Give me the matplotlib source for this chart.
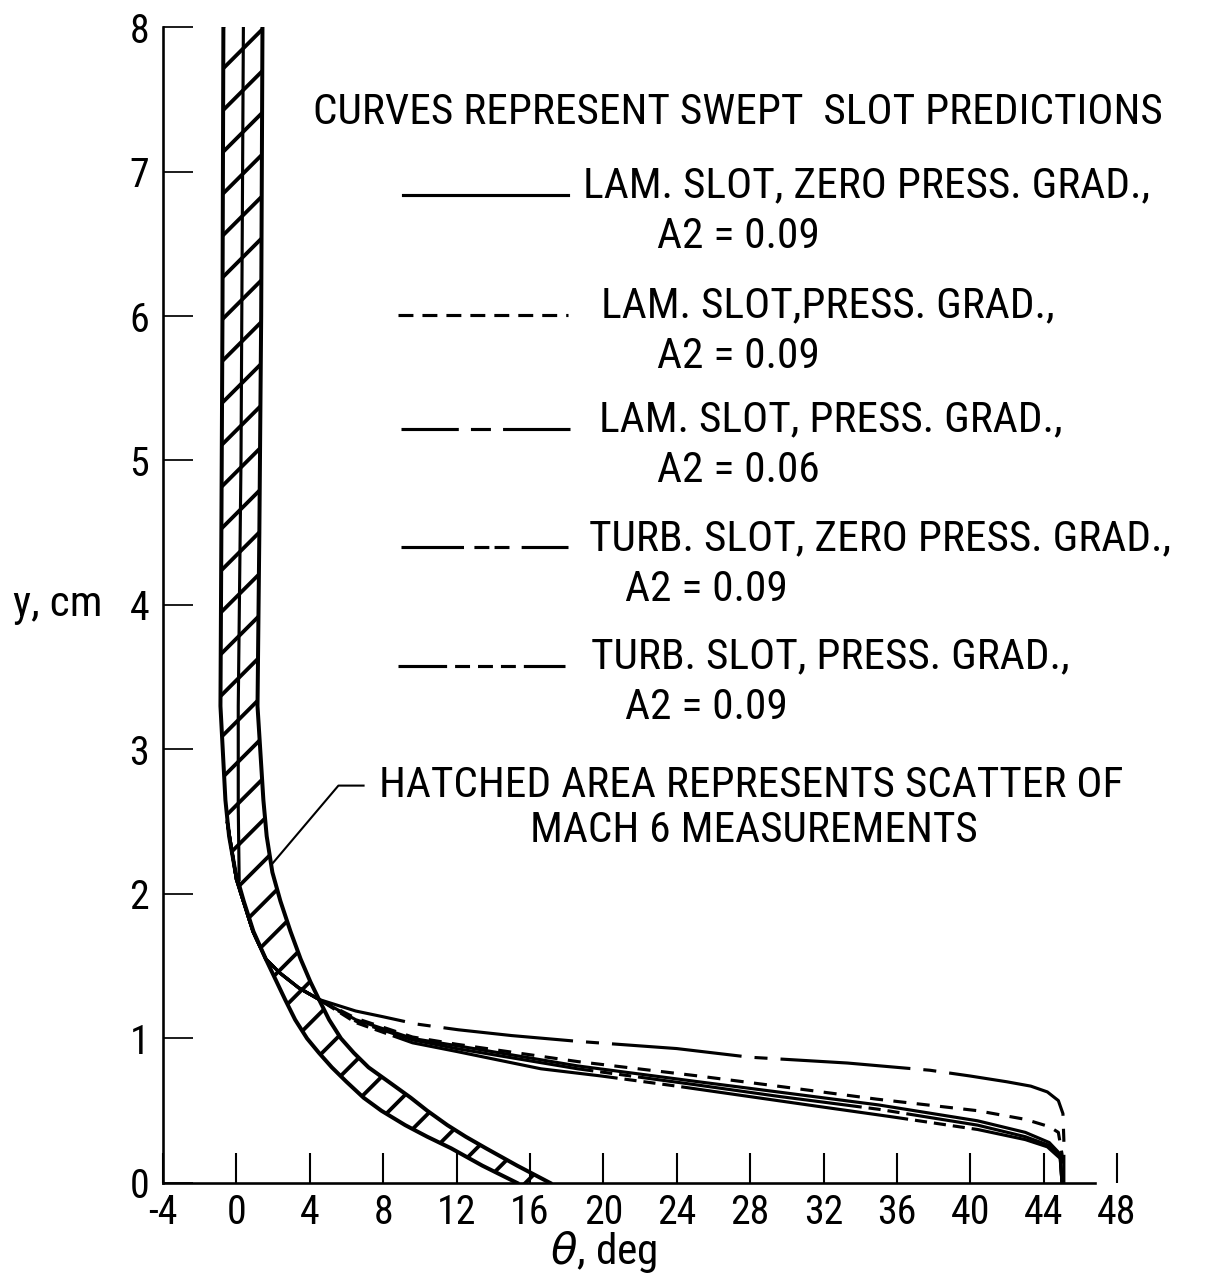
import matplotlib
matplotlib.use("Agg")
import matplotlib.pyplot as plt
from matplotlib import font_manager

# pick a narrow face if one is installed, the reference lettering is condensed
fm = font_manager.fontManager
names = {f.name for f in fm.ttflist}
FONT, STRETCH, FS, FS_TICK = "DejaVu Sans", "normal", 20.5, 20.5
for cand in ["Liberation Sans Narrow", "Roboto Condensed", "DejaVu Sans Condensed", "Open Sans Condensed"]:
    if cand in names:
        FONT, FS, FS_TICK = cand, 25, 23
        break
else:
    if any(f.name == "DejaVu Sans" and f.stretch == "condensed" for f in fm.ttflist):
        STRETCH, FS, FS_TICK = "condensed", 25, 23
plt.rcParams["font.family"] = [FONT, "DejaVu Sans"]
plt.rcParams["font.stretch"] = STRETCH
plt.rcParams["lines.scale_dashes"] = False
plt.rcParams["hatch.linewidth"] = 2.2

# scatter band of Mach 6 measurements (theta, deg at each y, cm)
band_y = [8.0, 6.0, 4.5, 3.3, 2.65, 2.4, 2.15, 1.95, 1.74, 1.55, 1.39, 1.27, 1.13,
          1.0, 0.9, 0.8, 0.7, 0.59, 0.5, 0.4, 0.32, 0.24, 0.12, 0.0]
band_left = [-0.71, -0.76, -0.82, -0.87, -0.6, -0.4, -0.05, 0.4, 0.93, 1.6, 2.2, 2.65, 3.2,
             3.85, 4.5, 5.2, 6.0, 6.93, 7.9, 9.2, 10.4, 11.7, 13.4, 15.3]
band_right = [1.42, 1.35, 1.25, 1.15, 1.47, 1.65, 1.96, 2.4, 2.95, 3.5, 4.04, 4.5, 5.05,
              5.7, 6.4, 7.2, 8.3, 9.5, 10.4, 11.5, 12.5, 13.6, 15.3, 17.1]
mid_y = [8.0, 5.0, 3.3, 2.6, 2.1]
mid_x = [0.38, 0.25, 0.1, 0.1, 0.15]

# swept slot predictions
lam_zero_x = [-0.5, 0.0, 0.9, 1.6, 2.4, 3.4, 4.5, 6.5, 9.6, 12.0, 18.6, 25.2, 29.5, 35.0, 40.4, 43.0, 44.3, 44.9, 45.0]
lam_zero_y = [2.5, 2.1, 1.74, 1.55, 1.45, 1.35, 1.27, 1.13, 1.0, 0.95, 0.81, 0.70, 0.63, 0.54, 0.43, 0.35, 0.28, 0.2, 0.0]

lam_pg_x = [-0.5, 0.0, 0.9, 1.6, 2.4, 3.4, 4.5, 6.5, 9.6, 12.0, 18.6, 25.2, 29.5, 34.9, 40.4, 43.0, 44.3, 44.8, 45.0, 45.0]
lam_pg_y = [2.5, 2.1, 1.74, 1.55, 1.45, 1.35, 1.27, 1.14, 1.01, 0.96, 0.84, 0.74, 0.67, 0.58, 0.50, 0.44, 0.39, 0.35, 0.2, 0.0]

lam_pg06_x = [-0.5, 0.0, 0.9, 1.6, 2.4, 3.4, 4.5, 6.5, 8.0, 9.8, 12.1, 15.0, 18.6, 24.0, 28.0, 33.3, 37.8, 40.0, 42.0, 43.3, 44.2, 44.8, 45.05, 45.1, 45.1]
lam_pg06_y = [2.5, 2.1, 1.74, 1.55, 1.45, 1.35, 1.27, 1.19, 1.15, 1.10, 1.06, 1.02, 0.98, 0.93, 0.87, 0.83, 0.78, 0.74, 0.70, 0.67, 0.63, 0.57, 0.48, 0.3, 0.0]

turb_zero_x = [-0.5, 0.0, 0.9, 1.6, 2.4, 3.4, 4.5, 6.5, 9.6, 12.0, 18.6, 25.0, 29.5, 35.0, 40.4, 43.0, 44.3, 44.9, 45.0]
turb_zero_y = [2.5, 2.1, 1.74, 1.55, 1.45, 1.35, 1.27, 1.12, 0.99, 0.93, 0.79, 0.68, 0.60, 0.51, 0.40, 0.32, 0.26, 0.18, 0.0]

turb_pg_x = [-0.5, 0.0, 0.9, 1.6, 2.4, 3.4, 4.5, 6.5, 9.6, 12.0, 16.6, 19.9, 24.0, 29.5, 31.7, 35.6, 40.4, 43.0, 44.2, 44.9, 45.0]
turb_pg_y = [2.5, 2.1, 1.74, 1.55, 1.45, 1.35, 1.27, 1.11, 0.97, 0.91, 0.79, 0.74, 0.67, 0.57, 0.53, 0.46, 0.37, 0.30, 0.25, 0.17, 0.0]

legend_labels = ["LAM. SLOT, ZERO PRESS. GRAD.,", "LAM. SLOT,PRESS. GRAD.,",
                 "LAM. SLOT, PRESS. GRAD.,", "TURB. SLOT, ZERO PRESS. GRAD.,",
                 "TURB. SLOT, PRESS. GRAD.,"]
legend_a2 = ["A2 = 0.09", "A2 = 0.09", "A2 = 0.06", "A2 = 0.09", "A2 = 0.09"]

xticks = list(range(-4, 49, 4))
xtick_labels = ["-4", "0", "4", "8", "12", "16", "20", "24", "28", "32", "36", "40", "44", "48"]
yticks = list(range(0, 9))

fig = plt.figure(figsize=(9.704, 10.2), dpi=125)
ax = fig.add_axes([0.1344, 0.0722, 0.7865, 0.9066])
ax.set_xlim(-4, 48)
ax.set_ylim(0, 8)

# band
ax.fill_betweenx(band_y, band_left, band_right, facecolor="none", edgecolor="black",
                 hatch="/", linewidth=0)
ax.plot(band_left, band_y, color="black", lw=2.3)
ax.plot(band_right, band_y, color="black", lw=2.3)
ax.plot(mid_x, mid_y, color="black", lw=1.8)

# prediction curves
lw = 1.8
ax.plot(lam_zero_x, lam_zero_y, color="black", lw=lw)
ax.plot(lam_pg_x, lam_pg_y, color="black", lw=lw, dashes=(7.5, 6))
ax.plot(lam_pg06_x, lam_pg06_y, color="black", lw=lw, dashes=(75, 7.5, 7.5, 7.5))
ax.plot(turb_zero_x, turb_zero_y, color="black", lw=lw, dashes=(130, 4, 7, 4, 7, 4))
ax.plot(turb_pg_x, turb_pg_y, color="black", lw=lw, dashes=(132, 4, 7, 4, 7, 4, 7, 4))

# legend drawn by hand
ax.text(4.15, 7.41, "CURVES REPRESENT SWEPT  SLOT PREDICTIONS", fontsize=FS, va="center")
samples = [(), (8.6, 5.2), (33, 7, 11.5, 7, 200, 10),
           (36, 6, 8.6, 3, 8.6, 7, 200, 10), (28, 4.6, 8.6, 4.6, 8.6, 4.6, 8.6, 4.6, 200, 10)]
line_x = [(9.1, 18.1), (8.8, 18.1), (8.95, 18.2), (8.95, 18.1), (8.8, 17.9)]
line_y = [6.84, 6.01, 5.22, 4.40, 3.58]
text_x = [18.9, 19.86, 19.75, 19.2, 19.3]
a2_x = [22.9, 22.9, 22.9, 21.2, 21.2]
for i in range(5):
    kw = {"dashes": samples[i]} if samples[i] else {}
    ax.plot(line_x[i], [line_y[i]] * 2, color="black", lw=1.8, **kw)
    ax.text(text_x[i], line_y[i] + 0.06, legend_labels[i], fontsize=FS, va="center")
    ax.text(a2_x[i], line_y[i] - 0.29, legend_a2[i], fontsize=FS, va="center")

ax.text(7.75, 2.75, "HATCHED AREA REPRESENTS SCATTER OF", fontsize=FS, va="center")
ax.text(16.0, 2.44, "MACH 6 MEASUREMENTS", fontsize=FS, va="center")
ax.plot([6.93, 5.56, 1.96], [2.75, 2.75, 2.21], color="black", lw=1.2)

ax.text(-12.2, 4.0, "y, cm", fontsize=FS, va="center", ha="left", clip_on=False)

# axes
for s in ["top", "right"]:
    ax.spines[s].set_visible(False)
ax.spines["bottom"].set_bounds(-4, 46.8)
ax.spines["bottom"].set_linewidth(1.5)
ax.spines["left"].set_linewidth(1.5)
ax.set_xticks(xticks)
ax.set_xticklabels(xtick_labels)
ax.set_yticks(yticks)
ax.tick_params(axis="x", direction="in", length=17, width=1.2, pad=6, labelsize=FS_TICK)
ax.tick_params(axis="y", direction="in", length=17, width=1.0, pad=8, labelsize=FS_TICK)
ax.set_xlabel(r"$\theta$, deg", fontsize=FS)
ax.xaxis.label.set_va("center")
ax.xaxis.set_label_coords(0.4615, -0.06)

fig.savefig("out.png", dpi=125)
